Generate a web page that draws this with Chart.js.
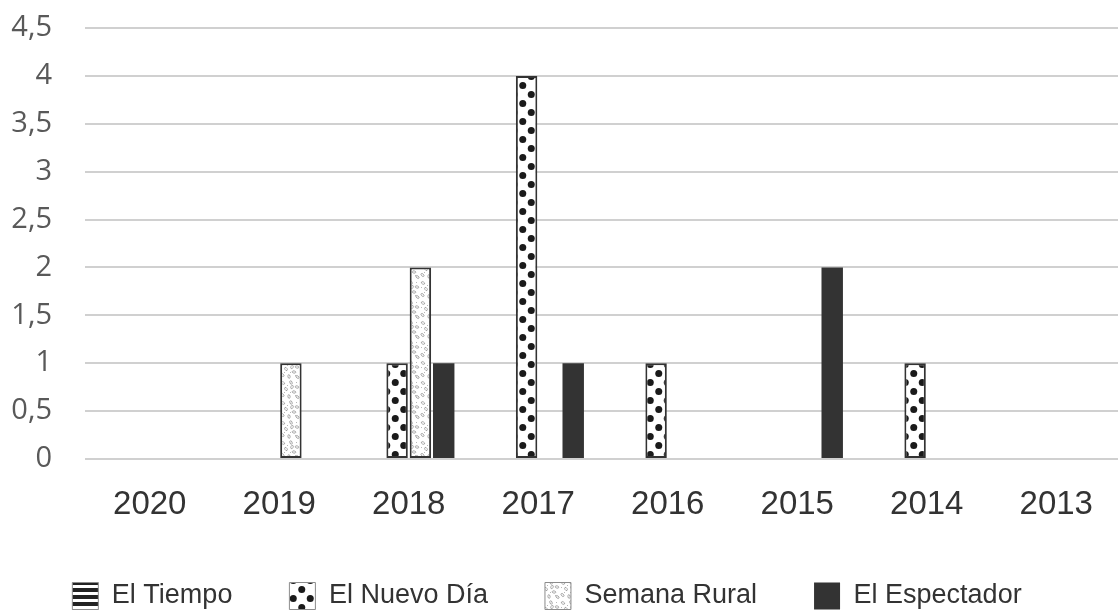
<!DOCTYPE html>
<html>
<head>
<meta charset="utf-8">
<script src="https://cdn.jsdelivr.net/npm/chart.js@4.4.1/dist/chart.umd.min.js"></script>
<style>
  html, body { margin: 0; padding: 0; background: #ffffff; overflow: hidden; }
  #wrap { position: relative; width: 1122px; height: 613px; }
</style>
</head>
<body>
<div id="wrap"><canvas id="chart"></canvas></div>
<script>
// ---- data ----
const categories   = ['2020', '2019', '2018', '2017', '2016', '2015', '2014', '2013'];
const seriesNames  = ['El Tiempo', 'El Nuevo Día', 'Semana Rural', 'El Espectador'];
const elTiempo     = [0, 0, 0, 0, 0, 0, 0, 0];
const elNuevoDia   = [0, 0, 1, 4, 1, 0, 1, 0];
const semanaRural  = [0, 1, 2, 0, 0, 0, 0, 0];
const elEspectador = [0, 0, 1, 1, 0, 2, 0, 0];
const yMin = 0, yMax = 4.5, yStep = 0.5;

// ---- fill patterns ----
function makePattern(w, h, draw) {
  const c = document.createElement('canvas');
  c.width = w; c.height = h;
  const g = c.getContext('2d');
  g.fillStyle = '#ffffff';
  g.fillRect(0, 0, w, h);
  draw(g);
  return document.getElementById('chart').getContext('2d').createPattern(c, 'repeat');
}
const stripes = makePattern(4, 7, g => {
  g.fillStyle = '#222222';
  g.fillRect(0, 0, 4, 4);
});
const dots = makePattern(17, 18, g => {
  g.fillStyle = '#1a1a1a';
  [[4.25, 4.5], [12.75, 13.5]].forEach(([x, y]) => {
    g.beginPath(); g.arc(x, y, 3.5, 0, Math.PI * 2); g.fill();
  });
});
const speckle = makePattern(20, 20, g => {
  g.strokeStyle = '#8f8f8f';
  g.lineWidth = 0.8;
  [[3, 3, 0.5], [11, 2.5, 1.2], [17, 7, 0.3], [6, 9, 1.0], [14, 12, 0.2],
   [2.5, 15, 0.8], [9, 16.5, 1.4], [17.5, 17, 0.6], [12, 7, 2.0]].forEach(([x, y, r]) => {
    g.beginPath(); g.ellipse(x, y, 1.8, 1.1, r, 0, Math.PI * 2); g.stroke();
  });
  g.fillStyle = '#b8b8b8';
  [[7, 5], [15, 15], [4, 12], [16, 2], [10, 12], [1, 7]].forEach(([x, y]) => {
    g.fillRect(x, y, 1, 1);
  });
});

const legendHeightFix = {
  id: 'legendHeightFix',
  beforeInit(chart) {
    const lg = chart.legend;
    if (!lg) return;
    const orig = lg.fit;
    lg.fit = function () { orig.call(this); this.height = 87.5; };
  }
};

new Chart(document.getElementById('chart'), {
  type: 'bar',
  data: {
    labels: categories,
    datasets: [
      { label: seriesNames[0], data: elTiempo, backgroundColor: stripes, borderColor: '#333333', borderWidth: 2, borderSkipped: false },
      { label: seriesNames[1], data: elNuevoDia, backgroundColor: dots, borderColor: '#333333', borderWidth: 2, borderSkipped: false },
      { label: seriesNames[2], data: semanaRural, backgroundColor: speckle, borderColor: '#333333', borderWidth: 2, borderSkipped: false },
      { label: seriesNames[3], data: elEspectador, backgroundColor: '#333333', borderColor: '#333333', borderWidth: 0, borderSkipped: false }
    ]
  },
  plugins: [legendHeightFix],
  options: {
    responsive: true,
    maintainAspectRatio: false,
    animation: false,
    datasets: { bar: { categoryPercentage: 0.72, barPercentage: 0.92 } },
    layout: { padding: { top: 28, right: 1, bottom: 0, left: -27 } },
    scales: {
      x: {
        grid: { display: false },
        border: { display: false },
        ticks: {
          color: '#333333',
          font: { family: '"Liberation Sans", Arial, sans-serif', size: 33 },
          padding: 18,
          maxRotation: 0,
          autoSkip: false
        },
        afterFit(scale) { scale.height = 66.5; }
      },
      y: {
        min: yMin,
        max: yMax,
        grid: { color: '#d0d0d0', lineWidth: 2, drawTicks: true, tickLength: 28, tickColor: 'rgba(0,0,0,0)' },
        border: { display: false },
        ticks: {
          stepSize: yStep,
          color: '#595959',
          font: { family: '"Open Sans", sans-serif', size: 29 },
          padding: 5,
          callback: v => String(v).replace('.', ',')
        },
        afterFit(scale) { scale.width = 112; }
      }
    },
    plugins: {
      tooltip: { enabled: false },
      title: { display: false },
      legend: {
        position: 'bottom',
        labels: {
          boxWidth: 26,
          boxHeight: 27,
          padding: 57,
          color: '#333333',
          font: { family: '"Liberation Sans", Arial, sans-serif', size: 27 },
          generateLabels(chart) {
            const items = Chart.defaults.plugins.legend.labels.generateLabels(chart);
            items.forEach((it, i) => {
              if (i < 3) { it.strokeStyle = '#8c8c8c'; it.lineWidth = 1; }
              else { it.lineWidth = 0; }
            });
            return items;
          }
        }
      }
    }
  }
});
</script>
</body>
</html>
